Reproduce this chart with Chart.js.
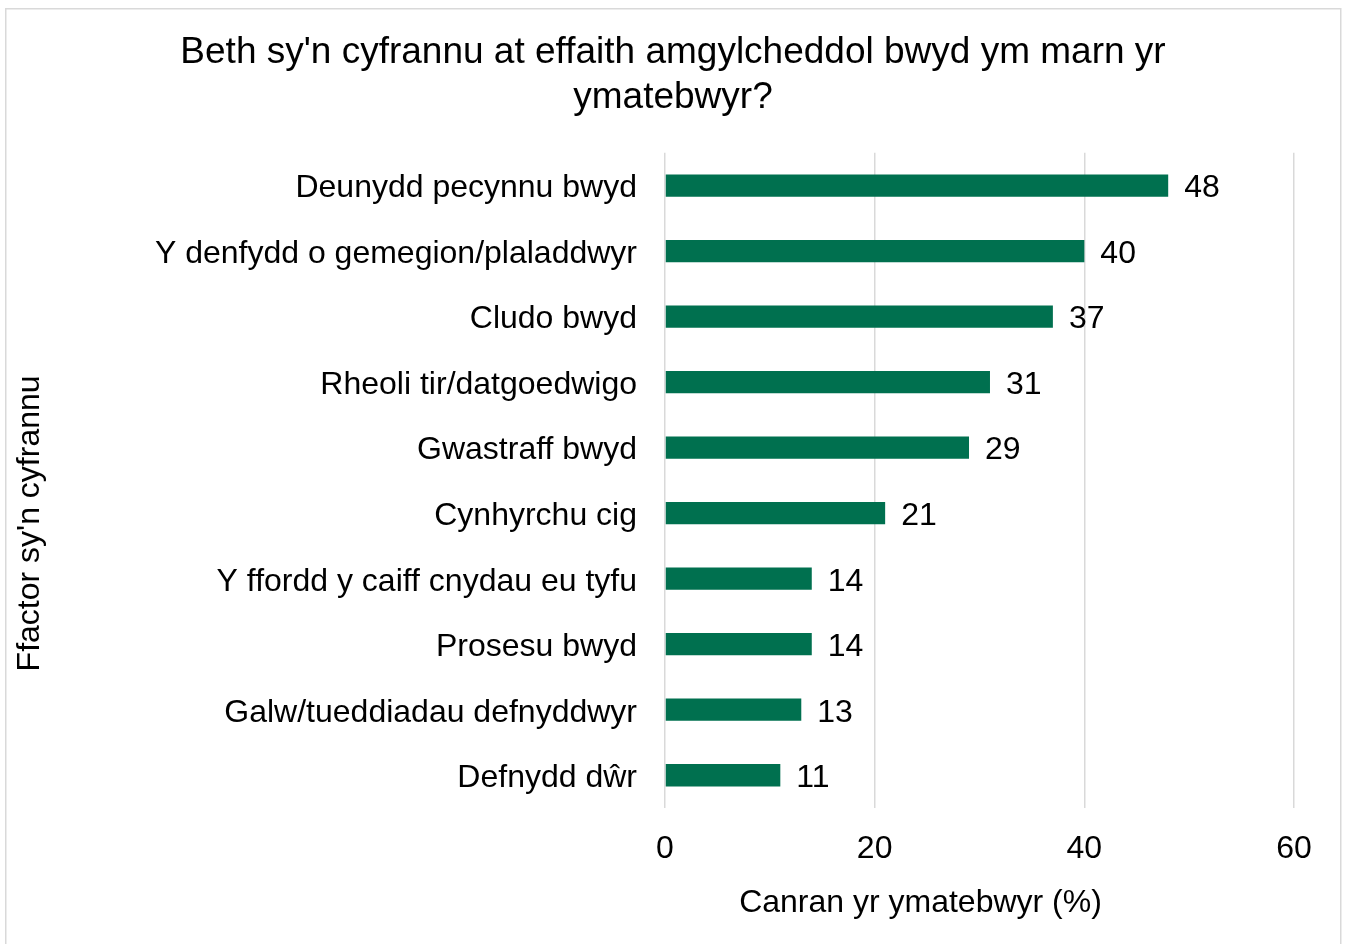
<!DOCTYPE html>
<html>
<head>
<meta charset="utf-8">
<script src="https://cdn.jsdelivr.net/npm/chart.js@4"></script>
<style>
  html, body { margin: 0; padding: 0; background: #fff; }
  canvas { display: block; }
</style>
</head>
<body>
<canvas id="chart" width="1346" height="944"></canvas>
<script>
// data
const categories = [
  'Deunydd pecynnu bwyd',
  'Y denfydd o gemegion/plaladdwyr',
  'Cludo bwyd',
  'Rheoli tir/datgoedwigo',
  'Gwastraff bwyd',
  'Cynhyrchu cig',
  'Y ffordd y caiff cnydau eu tyfu',
  'Prosesu bwyd',
  'Galw/tueddiadau defnyddwyr',
  'Defnydd dŵr'
];
const percentages = [48, 40, 37, 31, 29, 21, 14, 14, 13, 11];
const xTicks = [0, 20, 40, 60];

const titleLines = ["Beth sy'n cyfrannu at effaith amgylcheddol bwyd ym marn yr", 'ymatebwyr?'];
const xTitle = 'Canran yr ymatebwyr (%)';
const yTitle = "Ffactor sy'n cyfrannu";

const FONT = "'Liberation Sans', Arial, sans-serif";

const frame = {
  id: 'frame',
  beforeDraw(chart) {
    const c = chart.ctx;
    c.save();
    c.fillStyle = '#fff';
    c.fillRect(0, 0, chart.width, chart.height);
    c.strokeStyle = '#d9d9d9';
    c.lineWidth = 1.5;
    c.strokeRect(5.75, 8.75, 1335, 945);
    c.restore();
  }
};

// bar value labels and the axis titles (the titles sit off-centre in the original)
const labels = {
  id: 'labels',
  afterDatasetsDraw(chart) {
    const c = chart.ctx;
    const area = chart.chartArea;
    const meta = chart.getDatasetMeta(0);
    c.save();
    c.font = '32px ' + FONT;
    c.fillStyle = '#000';
    c.textAlign = 'left';
    c.textBaseline = 'middle';
    meta.data.forEach((bar, i) => {
      c.fillText(String(percentages[i]), bar.x + 16, bar.y + 3);
    });

    c.textAlign = 'center';
    c.fillText(xTitle, (area.left + area.right) / 2 - 59, area.bottom + 95);

    c.translate(30, (area.top + area.bottom) / 2 + 43);
    c.rotate(-Math.PI / 2);
    c.fillText(yTitle, 0, 0);
    c.restore();
  }
};

new Chart(document.getElementById('chart'), {
  type: 'bar',
  data: {
    labels: categories,
    datasets: [{
      data: percentages,
      backgroundColor: '#00704f',
      barPercentage: 0.34,
      categoryPercentage: 1
    }]
  },
  options: {
    indexAxis: 'y',
    responsive: false,
    animation: false,
    layout: { padding: { left: 26, right: 26, top: 0, bottom: 0 } },
    plugins: {
      legend: { display: false },
      tooltip: { enabled: false },
      title: {
        display: true,
        text: titleLines,
        color: '#000',
        font: { family: FONT, size: 37, weight: 'normal', lineHeight: 1.2 },
        padding: { top: 31, bottom: 33 }
      }
    },
    scales: {
      x: {
        min: 0,
        max: 60,
        afterBuildTicks(scale) { scale.ticks = xTicks.map(v => ({ value: v })); },
        afterFit(scale) { scale.height = 136; },
        grid: { color: '#d9d9d9', lineWidth: 1.5, drawTicks: false },
        border: { display: false },
        ticks: { color: '#000', padding: 22, font: { family: FONT, size: 32 } }
      },
      y: {
        afterFit(scale) { scale.width = 639; },
        grid: { display: false, drawTicks: false },
        border: { display: false },
        ticks: { color: '#000', padding: 28, labelOffset: 3, font: { family: FONT, size: 32 } }
      },
      yRight: {
        axis: 'y',
        type: 'category',
        position: 'right',
        afterFit(scale) { scale.width = 26; },
        grid: { display: false, drawTicks: false },
        border: { display: false },
        ticks: { display: false }
      }
    }
  },
  plugins: [frame, labels]
});
</script>
</body>
</html>
